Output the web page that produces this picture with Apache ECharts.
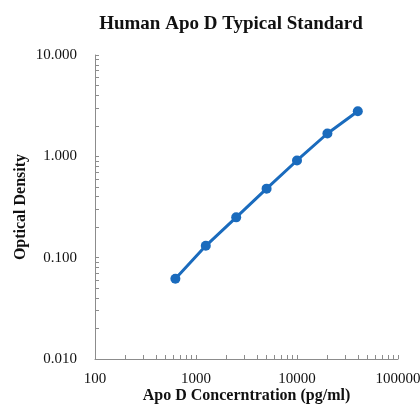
<!DOCTYPE html>
<html><head><meta charset="utf-8">
<script src="https://cdn.jsdelivr.net/npm/echarts@6/dist/echarts.min.js"></script>
<style>html,body{margin:0;padding:0;background:#fff}#c{width:420px;height:408px}</style>
</head><body><div id="c"></div>
<script>
const concentrations = [625, 1250, 2500, 5000, 10000, 20000, 40000];
const odValues = [0.062, 0.131, 0.25, 0.48, 0.91, 1.68, 2.78];
const xMinorTicks = [200,300,400,500,600,700,800,900,1000,2000,3000,4000,5000,6000,7000,8000,9000,10000,20000,30000,40000,50000,60000,70000,80000,90000,100000];
const yMinorTicks = [0.02,0.03,0.04,0.05,0.06,0.07,0.08,0.09,0.1,0.2,0.3,0.4,0.5,0.6,0.7,0.8,0.9,1,2,3,4,5,6,7,8,9,10];
const titleText = 'Human Apo D Typical Standard';
const xName = 'Apo D Concerntration (pg/ml)';
const yName = 'Optical Density';

const font = '"Liberation Serif", "Times New Roman", serif';
const blue = '#1A6BBD';
const chart = echarts.init(document.getElementById('c'));
chart.setOption({
  animation: false,
  title: { text: titleText, left: 226, top: 10, textAlign: 'center',
    textStyle: { fontFamily: font, fontSize: 19, fontWeight: 'bold', color: '#111' } },
  grid: { left: 95, right: 22, top: 55, bottom: 49, containLabel: false, outerBoundsMode: 'none' },
  xAxis: {
    type: 'log', logBase: 10, min: 100, max: 100000,
    name: xName, nameLocation: 'middle', nameGap: 29, nameMoveOverlap: false,
    nameTextStyle: { fontFamily: font, fontSize: 16, fontWeight: 'bold', color: '#111' },
    axisLine: { lineStyle: { color: '#8c8c8c' } },
    axisTick: { show: true, inside: true, length: 4, customValues: xMinorTicks, lineStyle: { color: '#8c8c8c' } },
    axisLabel: { fontFamily: font, fontSize: 15, color: '#111', margin: 13,
      formatter: v => String(Math.round(v)) },
    splitLine: { show: false }
  },
  yAxis: {
    type: 'log', logBase: 10, min: 0.01, max: 10,
    name: yName, nameLocation: 'middle', nameGap: 66, nameRotate: 90, nameMoveOverlap: false,
    nameTextStyle: { fontFamily: font, fontSize: 16, fontWeight: 'bold', color: '#111' },
    axisLine: { show: true, lineStyle: { color: '#8c8c8c' } },
    axisTick: { show: true, inside: true, length: 4, customValues: yMinorTicks, lineStyle: { color: '#8c8c8c' } },
    axisLabel: { fontFamily: font, fontSize: 15, color: '#111', margin: 18,
      formatter: v => Number(v).toFixed(3) },
    splitLine: { show: false }
  },
  series: [{
    type: 'line',
    data: concentrations.map((x, i) => [x, odValues[i]]),
    symbol: 'circle', symbolSize: 10,
    itemStyle: { color: blue },
    lineStyle: { color: blue, width: 3 }
  }]
});
</script></body></html>
